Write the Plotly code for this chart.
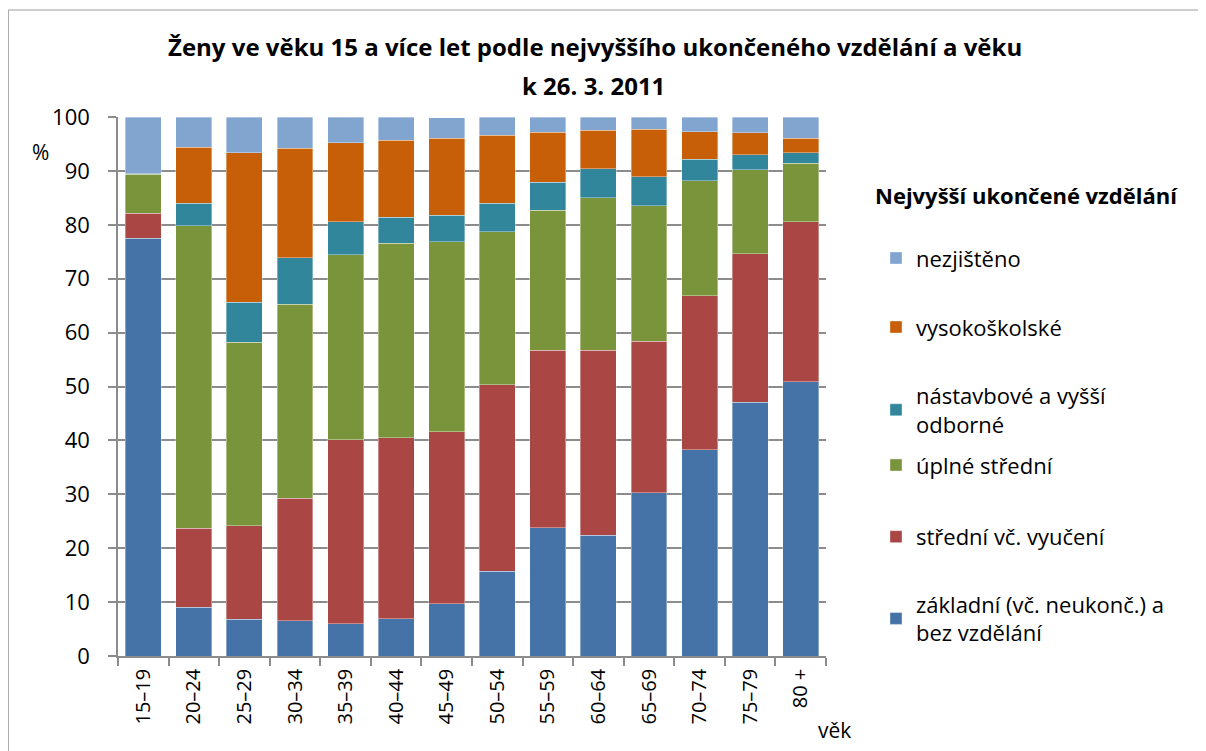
import plotly.graph_objects as go

# age groups (x axis)
ages = ["15–19", "20–24", "25–29", "30–34", "35–39", "40–44", "45–49",
        "50–54", "55–59", "60–64", "65–69", "70–74", "75–79", "80 +"]

# share of women (%) by highest completed education
zakladni = [77.5, 9.0, 6.8, 6.5, 6.0, 6.9, 9.7, 15.7, 23.8, 22.4, 30.3, 38.3, 47.1, 50.9]
stredni_vyuc = [4.6, 14.7, 17.4, 22.8, 34.1, 33.6, 31.9, 34.6, 32.9, 34.3, 28.1, 28.5, 27.5, 29.7]
uplne_stredni = [7.3, 56.1, 34.0, 36.0, 34.3, 36.1, 35.3, 28.4, 26.0, 28.3, 25.1, 21.4, 15.6, 10.8]
nastavbove = [0.1, 4.2, 7.4, 8.6, 6.2, 4.8, 4.9, 5.3, 5.2, 5.4, 5.4, 4.0, 2.8, 2.0]
vysokoskolske = [0.0, 10.4, 27.8, 20.3, 14.6, 14.3, 14.3, 12.6, 9.3, 7.1, 8.8, 5.1, 4.1, 2.7]
nezjisteno = [10.5, 5.6, 6.6, 5.8, 4.8, 4.3, 3.8, 3.4, 2.8, 2.5, 2.3, 2.7, 2.9, 3.9]

series = [
    ("základní (vč. neukonč.) a<br>bez vzdělání", zakladni, "#4673A7"),
    ("střední vč. vyučení", stredni_vyuc, "#AA4744"),
    ("úplné střední", uplne_stredni, "#7A943C"),
    ("nástavbové a vyšší<br>odborné", nastavbove, "#31869C"),
    ("vysokoškolské", vysokoskolske, "#C65F07"),
    ("nezjištěno", nezjisteno, "#82A5D0"),
]
# vertical centre of each legend entry (paper coords), same order as series
legend_y = [0.069, 0.221, 0.354, 0.456, 0.610, 0.738]

FONT = "'Open Sans', sans-serif"
GRID = "#8C8C8C"

fig = go.Figure()
for i, (name, vals, color) in enumerate(series):
    fig.add_trace(go.Bar(
        x=ages, y=vals, name=name,
        legend="legend" if i == 0 else f"legend{i + 1}",
        marker=dict(color=color, line=dict(color="rgba(255,255,255,0.6)", width=0.6)),
    ))

layout_legends = {}
for i, ly in enumerate(legend_y):
    key = "legend" if i == 0 else f"legend{i + 1}"
    layout_legends[key] = dict(
        x=1.0706, xanchor="left", y=ly, yanchor="middle",
        font=dict(family=FONT, size=22, color="#000000"),
        itemwidth=30, bgcolor="rgba(0,0,0,0)",
    )

# page body adds an 8px offset, so the figure is 8px smaller than the window
fig.update_layout(
    barmode="stack",
    bargap=0.29,
    width=1198, height=743,
    margin=dict(l=110, r=380, t=109, b=95),
    paper_bgcolor="white",
    plot_bgcolor="white",
    font=dict(family=FONT, size=19, color="#000000"),
    showlegend=True,
    **layout_legends,
)

fig.update_yaxes(
    range=[0, 100], dtick=10,
    showgrid=True, gridcolor=GRID, gridwidth=1.5,
    showline=True, linecolor=GRID, linewidth=1.5,
    ticks="outside", ticklen=8, tickcolor=GRID, tickwidth=1.5,
    ticklabelstandoff=14, tickfont=dict(size=22),
    zeroline=False,
)
fig.update_xaxes(
    type="category", tickangle=-90,
    showline=True, linecolor=GRID, linewidth=1.5,
    ticks="outside", tickson="boundaries", ticklen=8, tickcolor=GRID, tickwidth=1.5,
    ticklabelstandoff=3, tickfont=dict(size=20),
)

# title (two lines, Excel-like spacing)
fig.add_annotation(text="<b>Ženy ve věku 15 a více let podle nejvyššího ukončeného vzdělání a věku</b>",
                   xref="paper", yref="paper", x=0.674, y=1.13, xanchor="center", yanchor="middle",
                   showarrow=False, font=dict(family=FONT, size=24))
fig.add_annotation(text="<b>k 26. 3. 2011</b>",
                   xref="paper", yref="paper", x=0.671, y=1.059, xanchor="center", yanchor="middle",
                   showarrow=False, font=dict(family=FONT, size=24))

# legend heading, axis unit labels
fig.add_annotation(text="<b>Nejvyšší ukončené vzdělání</b>", xref="paper", yref="paper",
                   x=1.0664, y=0.855, xanchor="left", yanchor="middle", showarrow=False,
                   font=dict(family=FONT, size=22))
fig.add_annotation(text="%", xref="paper", yref="paper", x=-0.11, y=0.935,
                   xanchor="center", yanchor="middle", showarrow=False, font=dict(size=21))
fig.add_annotation(text="věk", xref="paper", yref="paper", x=1.0127, y=-0.137,
                   xanchor="center", yanchor="middle", showarrow=False, font=dict(size=21))

# chart frame
fig.add_shape(type="rect", xref="paper", yref="paper",
              x0=-0.155, x1=1.532, y0=-0.25, y1=1.1985,
              line=dict(color="#A0A0A0", width=1.2), layer="below")

fig.write_html("out.html")
